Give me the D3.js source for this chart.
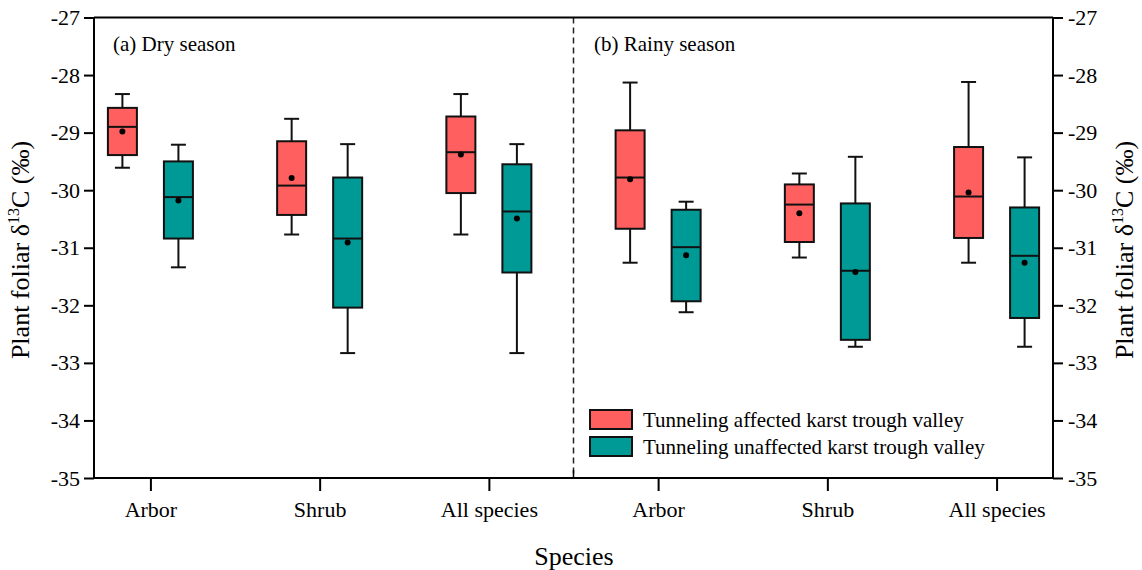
<!DOCTYPE html>
<html>
<head>
<meta charset="utf-8">
<script src="https://cdn.jsdelivr.net/npm/d3@7"></script>
<style>
body { margin: 0; background: #fff; }
text { font-family: "Liberation Serif", "Times New Roman", serif; }
</style>
</head>
<body>
<svg id="chart" width="1142" height="570"></svg>
<script>
// categories (dry season groups 1-3, rainy season groups 4-6)
var species = ["Arbor", "Shrub", "All species", "Arbor", "Shrub", "All species"];
var seriesNames = ["Tunneling affected karst trough valley", "Tunneling unaffected karst trough valley"];
var yTicks = [-27, -28, -29, -30, -31, -32, -33, -34, -35];

// affected valley: whisker low, q1, median, q3, whisker high, mean
var affectedLow    = [-29.61, -30.77, -30.77, -31.26, -31.17, -31.26];
var affectedQ1     = [-29.39, -30.43, -30.05, -30.67, -30.90, -30.83];
var affectedMedian = [-28.90, -29.92, -29.34, -29.78, -30.25, -30.11];
var affectedQ3     = [-28.57, -29.15, -28.72, -28.96, -29.90, -29.25];
var affectedHigh   = [-28.33, -28.76, -28.33, -28.13, -29.71, -28.12];
var affectedMean   = [-28.98, -29.79, -29.38, -29.81, -30.40, -30.04];

// unaffected valley
var unaffectedLow    = [-31.34, -32.83, -32.83, -32.12, -32.72, -32.72];
var unaffectedQ1     = [-30.84, -32.04, -31.43, -31.93, -32.60, -32.22];
var unaffectedMedian = [-30.12, -30.84, -30.37, -30.99, -31.40, -31.14];
var unaffectedQ3     = [-29.50, -29.78, -29.55, -30.34, -30.23, -30.30];
var unaffectedHigh   = [-29.21, -29.20, -29.20, -30.20, -29.42, -29.43];
var unaffectedMean   = [-30.18, -30.91, -30.49, -31.13, -31.42, -31.26];

var colors = ["#FF5F5F", "#009A96"];

var svg = d3.select("#chart");
var plotLeft = 94, plotRight = 1053, plotTop = 17.5, plotBottom = 478;

var x = d3.scaleLinear().domain([2 / 3, 6 + 1 / 3]).range([plotLeft, plotRight]);
var y = d3.scaleLinear().domain([-35, -27]).range([plotBottom, plotTop]);

function build(low, q1, med, q3, high, mean, s)
{
	return species.map(function(name, i)
	{
		return { pos: i + 1, low: low[i], q1: q1[i], med: med[i], q3: q3[i], high: high[i], mean: mean[i], s: s };
	});
}

var boxes = build(affectedLow, affectedQ1, affectedMedian, affectedQ3, affectedHigh, affectedMean, 0)
	.concat(build(unaffectedLow, unaffectedQ1, unaffectedMedian, unaffectedQ3, unaffectedHigh, unaffectedMean, 1));

var offset = 0.1655, boxW = 29, capW = 15;
function cx(d) { return x(d.pos + (d.s === 0 ? -offset : offset)); }
function plain(d) { return String(d); }

// dashed separator between seasons
svg.append("line")
	.attr("x1", x(3.5)).attr("x2", x(3.5))
	.attr("y1", plotTop).attr("y2", plotBottom)
	.attr("stroke", "#222").attr("stroke-width", 1.5)
	.attr("stroke-dasharray", "6,4");

// top border
svg.append("line")
	.attr("x1", plotLeft).attr("x2", plotRight)
	.attr("y1", plotTop).attr("y2", plotTop)
	.attr("stroke", "#000").attr("stroke-width", 2);

var yAxisL = svg.append("g")
	.attr("transform", "translate(" + plotLeft + ",0)")
	.call(d3.axisLeft(y).tickValues(yTicks).tickSize(10).tickPadding(4).tickFormat(plain));
var yAxisR = svg.append("g")
	.attr("transform", "translate(" + plotRight + ",0)")
	.call(d3.axisRight(y).tickValues(yTicks).tickSize(10).tickPadding(5).tickFormat(plain));
var xAxis = svg.append("g")
	.attr("transform", "translate(0," + plotBottom + ")")
	.call(d3.axisBottom(x).tickValues([1, 2, 3, 4, 5, 6]).tickSize(13).tickPadding(10)
		.tickFormat(function(d) { return species[d - 1]; }));

[yAxisL, yAxisR, xAxis].forEach(function(g)
{
	g.select(".domain").attr("stroke", "#000").attr("stroke-width", 2);
	g.selectAll(".tick line").attr("stroke", "#000").attr("stroke-width", 2);
	g.selectAll(".tick text").style("font-size", "22px").attr("fill", "#000")
		.style("font-family", "'Liberation Serif', serif");
});
yAxisL.select(".domain").attr("d", "M0," + plotTop + "V" + plotBottom);
yAxisR.select(".domain").attr("d", "M0," + plotTop + "V" + plotBottom);
xAxis.select(".domain").attr("d", "M" + plotLeft + ",0H" + plotRight);

// small inward tick at the season split
svg.append("line")
	.attr("x1", x(3.5)).attr("x2", x(3.5))
	.attr("y1", plotBottom).attr("y2", plotBottom - 8)
	.attr("stroke", "#000").attr("stroke-width", 1.5);

var g = svg.selectAll("g.box")
	.data(boxes)
	.enter()
	.append("g")
	.attr("class", "box");

g.append("line")
	.attr("x1", cx).attr("x2", cx)
	.attr("y1", function(d) { return y(d.high); })
	.attr("y2", function(d) { return y(d.low); })
	.attr("stroke", "#111").attr("stroke-width", 2);

g.append("line")
	.attr("x1", function(d) { return cx(d) - capW / 2; })
	.attr("x2", function(d) { return cx(d) + capW / 2; })
	.attr("y1", function(d) { return y(d.high); })
	.attr("y2", function(d) { return y(d.high); })
	.attr("stroke", "#111").attr("stroke-width", 2);

g.append("line")
	.attr("x1", function(d) { return cx(d) - capW / 2; })
	.attr("x2", function(d) { return cx(d) + capW / 2; })
	.attr("y1", function(d) { return y(d.low); })
	.attr("y2", function(d) { return y(d.low); })
	.attr("stroke", "#111").attr("stroke-width", 2);

g.append("rect")
	.attr("x", function(d) { return cx(d) - boxW / 2; })
	.attr("y", function(d) { return y(d.q3); })
	.attr("width", boxW)
	.attr("height", function(d) { return y(d.q1) - y(d.q3); })
	.attr("fill", function(d) { return colors[d.s]; })
	.attr("stroke", "#111").attr("stroke-width", 2);

g.append("line")
	.attr("x1", function(d) { return cx(d) - boxW / 2; })
	.attr("x2", function(d) { return cx(d) + boxW / 2; })
	.attr("y1", function(d) { return y(d.med); })
	.attr("y2", function(d) { return y(d.med); })
	.attr("stroke", "#111").attr("stroke-width", 2);

g.append("circle")
	.attr("cx", cx)
	.attr("cy", function(d) { return y(d.mean); })
	.attr("r", 3)
	.attr("fill", "#000");

// panel labels
svg.append("text").attr("x", 113).attr("y", 51).style("font-size", "21px").text("(a) Dry season");
svg.append("text").attr("x", 594).attr("y", 51).style("font-size", "21px").text("(b) Rainy season");

// axis titles
svg.append("text")
	.attr("x", 574).attr("y", 565)
	.attr("text-anchor", "middle")
	.style("font-size", "26px")
	.text("Species");

function yTitle(tx)
{
	var t = svg.append("text")
		.attr("transform", "translate(" + tx + ",250) rotate(-90)")
		.attr("text-anchor", "middle")
		.style("font-size", "26px");
	t.append("tspan").text("Plant foliar \u03b4");
	t.append("tspan").attr("dy", -10).style("font-size", "16px").text("13");
	t.append("tspan").attr("dy", 10).text("C (\u2030)");
}
yTitle(29);
yTitle(1133);

// legend
var legend = svg.selectAll("g.legend")
	.data(seriesNames)
	.enter()
	.append("g")
	.attr("class", "legend")
	.attr("transform", function(d, i) { return "translate(590," + (410 + i * 27) + ")"; });

legend.append("rect")
	.attr("width", 42).attr("height", 19)
	.attr("fill", function(d, i) { return colors[i]; })
	.attr("stroke", "#111").attr("stroke-width", 2);

legend.append("text")
	.attr("x", 53).attr("y", 17)
	.style("font-size", "21px")
	.text(function(d) { return d; });
</script>
</body>
</html>
